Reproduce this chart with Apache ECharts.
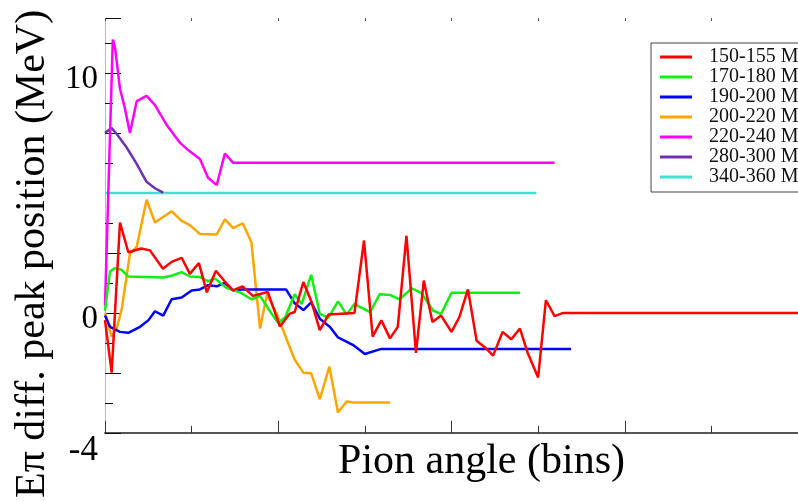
<!DOCTYPE html>
<html>
<head>
<meta charset="utf-8">
<script src="https://cdn.jsdelivr.net/npm/echarts@6/dist/echarts.min.js"></script>
<style>
  html, body { margin: 0; padding: 0; background: #fff; }
  #container { width: 798px; height: 501px; }
</style>
</head>
<body>
<div id="container"></div>
<script>
// energy ranges shown in the legend
var seriesNames = ['150-155 MeV', '170-180 MeV', '190-200 MeV', '200-220 MeV',
                   '220-240 MeV', '280-300 MeV', '340-360 MeV'];
var seriesColors = ['#ff0000', '#11ee11', '#0000ff', '#ffa500', '#ff00ff', '#7030b0', '#40e0d0'];

// [bin, peak position diff (MeV)]
var red = [[0, -0.3], [0.77, -2.49], [1.73, 3.77], [2.69, 2.53], [4.2, 2.69], [5.19, 2.61],
  [6.69, 1.84], [7.69, 2.13], [8.85, 2.3], [9.8, 1.63], [10.84, 2.08], [11.76, 0.86],
  [12.8, 1.76], [13.84, 1.31], [14.76, 0.94], [15.88, 1.11], [17.07, 0.71], [18.8, 0.87],
  [20.2, -0.57], [21.3, -0.04], [21.9, 0.04], [22.9, 1.29], [23.8, 0.5], [24.8, -0.72],
  [25.8, -0.07], [28.8, 0], [29.9, 3.02], [30.9, -0.99], [31.9, -0.31], [32.9, -1.06],
  [33.8, -0.58], [34.8, 3.22], [35.9, -1.67], [36.8, 1.35], [37.8, -0.38], [38.8, -0.11],
  [40.0, -0.79], [40.9, -0.18], [41.9, 0.98], [42.9, -1.16], [43.9, -1.45], [44.8, -1.78],
  [45.9, -0.79], [46.9, -1.1], [47.9, -0.65], [48.8, -1.67], [50.0, -2.69], [50.9, 0.53],
  [51.9, -0.13], [52.9, 0], [80, 0]];
var green = [[0, 0.09], [0.58, 1.73], [1.15, 1.87], [1.9, 1.8], [2.69, 1.52], [6.7, 1.48],
  [7.7, 1.55], [8.85, 1.7], [9.8, 1.52], [10.96, 1.5], [11.9, 1.32], [12.7, 1.43],
  [14.0, 1.05], [15.6, 0.86], [16.9, 0.57], [17.9, 0.71], [19.0, 0.09], [20.0, -0.42],
  [20.8, -0.18], [21.9, 0.78], [22.7, 0.37], [23.8, 1.59], [24.8, -0.04], [25.8, -0.2],
  [26.9, 0.48], [27.9, -0.07], [28.8, 0.37], [30.6, 0.03], [31.7, 0.78], [32.9, 0.75],
  [34.0, 0.57], [35.4, 1.02], [36.5, 0.84], [37.9, 0.09], [38.8, -0.04], [40.0, 0.84],
  [47.9, 0.84]];
var blue = [[0, -0.11], [0.58, -0.58], [1.73, -0.79], [2.69, -0.83], [4.04, -0.58],
  [5.0, -0.31], [5.77, 0.07], [6.72, -0.11], [7.69, 0.57], [8.85, 0.64], [10.0, 0.94],
  [10.96, 0.98], [11.9, 1.16], [12.9, 1.11], [13.84, 1.25], [14.8, 0.94], [15.8, 0.98],
  [20.9, 0.98], [21.9, 0.4], [22.9, 0.12], [23.8, 0.44], [24.8, -0.24], [25.95, -0.58],
  [26.9, -1.02], [28.6, -1.33], [30.0, -1.71], [31.9, -1.5], [53.8, -1.5]];
var orange = [[0, 0], [0.77, -0.99], [1.35, -0.65], [1.93, 0.16], [2.88, 2.48], [3.66, 2.75],
  [4.8, 4.72], [5.77, 3.77], [7.69, 4.24], [8.85, 3.84], [9.8, 3.66], [10.96, 3.29],
  [12.9, 3.27], [13.84, 3.9], [14.8, 3.54], [15.9, 3.74], [16.9, 2.95], [17.9, -0.65],
  [18.7, 0.78], [20.0, -0.18], [21.0, -1.13], [21.9, -1.95], [22.9, -2.49], [23.8, -2.52],
  [24.8, -3.6], [25.9, -2.24], [26.9, -4.15], [27.9, -3.69], [28.8, -3.74], [32.9, -3.74]];
var magenta = [[0, 0.3], [0.9, 11.4], [1.15, 11.1], [1.73, 9.35], [2.3, 8.53], [2.88, 7.5],
  [3.66, 8.83], [4.8, 9.05], [5.77, 8.67], [7.1, 7.85], [8.65, 7.1], [9.6, 6.79],
  [10.96, 6.42], [11.9, 5.64], [12.9, 5.33], [13.84, 6.65], [14.8, 6.26], [51.9, 6.26]];
var purple = [[0, 7.51], [0.77, 7.71], [1.53, 7.38], [2.5, 6.9], [3.66, 6.22], [4.8, 5.47],
  [5.77, 5.2], [6.72, 5.02]];
var cyan = [[0, 5.0], [49.8, 5.0]];

// tick label text per axis value (the bottom label sits on the axis min)
var yLabels = { '0': '{m|0}', '10': '{m|10}', '-5': '{b|-4}' };

var seriesData = [red, green, blue, orange, magenta, purple, cyan];
var serif = 'Liberation Serif';

var dom = document.getElementById('container');
var myChart = echarts.init(dom);

// draw from the last to the first so red ends up on top
var series = [];
for (var i = seriesData.length - 1; i >= 0; i--) {
    series.push({
        name: seriesNames[i],
        type: 'line',
        data: seriesData[i],
        symbol: 'none',
        color: seriesColors[i],
        lineStyle: { width: 2.5 },
        animation: false
    });
}

var option = {
    backgroundColor: '#fff',
    animation: false,
    grid: { left: 105, right: 0, top: 18, bottom: 59 },
    legend: {
        data: seriesNames,
        orient: 'vertical',
        left: 651,
        top: 43,
        padding: [4, 10, 5, 9],
        itemGap: 0,
        icon: 'rect',
        itemWidth: 32,
        itemHeight: 3,
        borderColor: '#444',
        borderWidth: 1,
        textStyle: { fontFamily: serif, fontSize: 20, color: '#111', lineHeight: 18, padding: [0, 0, 0, 12] }
    },
    xAxis: [
        {
            type: 'value',
            min: 0,
            max: 80,
            interval: 20,
            name: 'Pion angle (bins)',
            nameLocation: 'middle',
            nameGap: 8,
            nameTextStyle: { fontFamily: serif, fontSize: 42, color: '#000', padding: [0, 0, 0, 60] },
            axisLine: { onZero: false, lineStyle: { color: '#555', width: 2 } },
            axisTick: { inside: true, length: 12, lineStyle: { color: '#333' } },
            minorTick: { show: true, splitNumber: 2, length: 7, lineStyle: { color: '#333' } },
            axisLabel: { show: false },
            splitLine: { show: false }
        },
        {
            type: 'value',
            position: 'top',
            min: 0,
            max: 80,
            interval: 10,
            axisLine: { show: false, onZero: false },
            axisTick: { inside: true, length: 3, lineStyle: { color: '#555' } },
            axisLabel: { show: false },
            splitLine: { show: false }
        }
    ],
    yAxis: {
        type: 'value',
        min: -5,
        max: 12.3,
        interval: 2.5,
        name: 'E\u03c0 diff. peak position (MeV)',
        nameLocation: 'middle',
        nameGap: 50,
        nameTextStyle: { fontFamily: serif, fontSize: 42, color: '#000', padding: [0, 57, 0, 0] },
        axisLine: { show: true, onZero: false, lineStyle: { color: '#bbb', width: 1 } },
        axisTick: { inside: true, length: 16, lineStyle: { color: '#111' } },
        minorTick: { show: true, splitNumber: 2, length: 8, lineStyle: { color: '#111' } },
        axisLabel: {
            fontFamily: serif,
            fontSize: 33,
            color: '#000',
            margin: 7,
            formatter: function (v) {
                return yLabels[String(v)] || '';
            },
            rich: {
                m: { fontFamily: serif, fontSize: 33, color: '#000', padding: [12, 0, 0, 0] },
                b: { fontFamily: serif, fontSize: 35, color: '#000', padding: [36, 0, 0, 0] }
            }
        },
        splitLine: { show: false }
    },
    series: series
};
myChart.setOption(option);
</script>
</body>
</html>
